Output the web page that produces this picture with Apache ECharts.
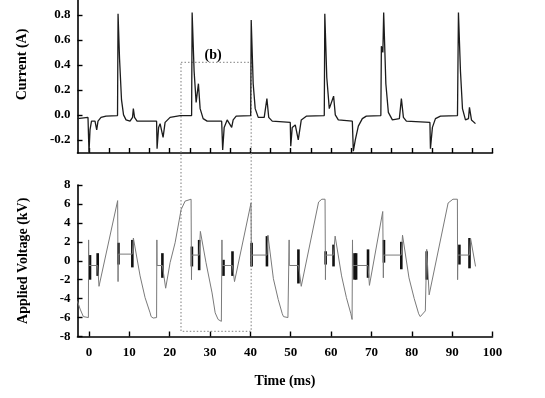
<!DOCTYPE html>
<html>
<head>
<meta charset="utf-8">
<script src="https://cdn.jsdelivr.net/npm/echarts@6/dist/echarts.min.js"></script>
<style>
  html, body { margin: 0; padding: 0; background: #fff; }
  #chart { width: 545px; height: 398px; }
</style>
</head>
<body>
<div id="chart"></div>
<script>
  // 放电电流 (A) —— 上图
  const currentTime = [
    -2.85, -0.25, 0.0, 0.25, 0.62, 0.99, 1.49, 1.91, 2.23, 2.98, 4.22,
    7.07, 7.2, 7.57, 8.06, 8.56, 9.18, 10.17, 10.79, 10.99, 11.29, 11.91,
    16.75, 16.87, 17.25, 17.62, 18.36, 18.86, 20.1, 22.6,
    25.43, 25.56, 26.05, 26.55, 27.12, 27.54, 28.29, 29.28,
    32.88, 33.13, 33.5, 34.24, 35.36, 35.73, 36.48,
    40.07, 40.2, 40.69, 41.19, 41.94, 43.42, 44.09, 44.54, 45.41,
    49.88, 50.0, 50.37, 51.12, 51.86, 52.61, 53.85,
    58.31, 58.44, 58.93, 59.55, 60.62, 61.04, 61.79,
    65.26, 65.51, 66.0, 66.75, 67.74, 68.73,
    72.33, 72.46, 72.83, 73.03, 73.57, 74.19, 75.19, 76.92, 77.42, 77.92, 78.66,
    84.49, 84.62, 85.11, 85.86, 87.1,
    91.32, 91.56, 92.06, 92.56, 93.3, 94.04, 94.29, 94.79, 95.78
  ];
  const currentValue = [
    -0.03, -0.02, -0.30, -0.12, -0.05, -0.04, -0.05, -0.12, -0.05, -0.02, -0.01,
    -0.005, 0.81, 0.45, 0.12, 0.0, -0.04, -0.05, -0.02, 0.05, -0.02, -0.05,
    -0.05, -0.27, -0.1, -0.07, -0.18, -0.06, -0.02, -0.005,
    -0.005, 0.82, 0.35, 0.1, 0.25, 0.05, -0.03, -0.05,
    -0.05, -0.28, -0.1, -0.04, -0.1, -0.04, -0.01,
    -0.005, 0.76, 0.25, 0.05, -0.02, -0.02, 0.13, -0.02, -0.05,
    -0.06, -0.25, -0.1, -0.08, -0.2, -0.04, -0.01,
    -0.005, 0.81, 0.3, 0.05, 0.15, 0.0, -0.04,
    -0.05, -0.29, -0.2, -0.09, -0.03, -0.01,
    -0.005, 0.55, 0.5, 0.82, 0.25, 0.02, -0.04, -0.03, 0.13, -0.02, -0.05,
    -0.06, -0.27, -0.1, -0.03, -0.01,
    -0.005, 0.82, 0.35, 0.05, -0.04, -0.03, 0.06, -0.04, -0.07
  ];

  // 外加电压 (kV) —— 下图
  const voltageTime = [
    -2.85, -2.2, -1.4, -0.15, -0.1, -0.05, 2.15, 2.48, 7.1, 7.2, 7.25, 10.74,
    11.0, 12.66, 13.9, 15.14, 15.4, 15.9, 16.75, 16.82, 16.87, 18.19,
    19.0, 20.1, 21.34, 22.83, 23.82, 24.3, 25.3, 25.4, 25.45, 27.3,
    27.6, 29.0, 30.5, 31.27, 32.0, 32.8, 32.95, 33.0, 35.56,
    36.06, 40.15, 40.25, 40.3, 44.1,
    44.35, 45.7, 46.9, 47.9, 48.2, 49.3, 49.6, 49.65, 51.94,
    52.6, 56.9, 57.7, 58.5, 58.6, 58.65, 60.6,
    61.0, 62.6, 63.8, 64.9, 65.2, 65.3, 65.35, 69.15,
    69.5, 72.8, 72.95, 73.0, 77.4,
    77.7, 79.3, 80.6, 81.7, 82.1, 82.5, 83.35, 83.7,
    84.3, 89.0, 90.2, 91.3, 91.35, 91.4, 94.3, 94.55, 95.8
  ];
  const voltageValue = [
    -4.3, -5.1, -5.9, -6.0, 2.2, -0.5, -0.5, -2.7, 6.35, -2.2, 0.7, 0.7,
    2.4, -1.6, -3.9, -5.5, -5.9, -6.05, -6.0, 2.2, -0.5, -0.5,
    -2.9, -0.2, 1.9, 5.4, 6.3, 6.5, 6.5, -2.0, 0.6, 0.6,
    3.1, -0.2, -3.4, -5.5, -6.2, -6.4, 2.2, -0.5, -0.5,
    -2.2, 6.1, -0.6, 0.6, 0.6,
    2.7, -1.9, -4.1, -5.6, -5.9, -6.0, 2.2, -0.5, -0.5,
    -2.7, 6.2, 6.5, 6.5, -2.0, 0.6, 0.6,
    2.6, -1.6, -3.9, -5.6, -6.2, 2.2, -0.5, -0.5,
    -2.6, 5.2, -1.8, 0.6, 0.6,
    2.7, -1.8, -4.0, -5.6, -5.9, -6.0, -5.3, 1.2,
    -3.6, 6.1, 6.5, 6.5, -2.0, 0.6, 0.6, 2.4, -0.6
  ];

  // 高频振荡段 (黑色竖条)
  const burstTime = [0.25, 2.15, 7.3, 10.74, 18.19, 25.5, 27.3, 33.33, 35.56, 40.3, 44.1,
    51.9, 58.65, 60.6, 65.8, 66.2, 69.15, 73.1, 77.4, 83.7, 91.8, 94.3];
  const burstLow = [-2.0, -1.6, -0.4, -0.7, -1.8, -0.6, -1.0, -1.6, -1.6, -0.6, -0.6,
    -2.4, -0.4, -0.6, -2.0, -2.0, -1.8, -0.2, -0.9, -2.0, -0.4, -0.8];
  const burstHigh = [0.6, 0.8, 1.9, 2.2, 0.8, 1.5, 2.2, 0.1, 1.0, 1.9, 2.6,
    1.2, 1.0, 1.7, 0.8, 0.8, 1.2, 2.2, 2.0, 1.0, 1.7, 2.4];

  const currentTicks = [-0.2, 0.0, 0.2, 0.4, 0.6, 0.8];
  const timeTicksTop = [0, 5, 10, 15, 20, 25, 30, 35, 40, 45, 50, 55, 60, 65, 70, 75, 80, 85, 90, 95, 100];
  const timeTicksBottom = [0, 10, 20, 30, 40, 50, 60, 70, 80, 90, 100];

  // 虚线框 (b)
  const boxStart = 22.8;
  const boxEnd = 40.2;
  const boxTopCurrent = 0.42;
  const boxBottomVoltage = -7.45;

  const font = 'Liberation Serif, Times New Roman, serif';
  const axisLine = { onZero: false, lineStyle: { color: '#000', width: 1.6 } };
  const tickStyle = { color: '#000', width: 1.4 };

  const chart = echarts.init(document.getElementById('chart'));

  chart.setOption({
    backgroundColor: '#fff',
    animation: false,
    grid: [
      { left: 77.5, right: 52.5, top: 0, height: 153 },
      { left: 77.5, right: 52.5, top: 185, height: 151.5 }
    ],
    xAxis: [{
      gridIndex: 0, type: 'value', min: -2.85, max: 100,
      axisLine: axisLine,
      axisTick: { inside: true, length: 5, lineStyle: tickStyle, customValues: timeTicksTop },
      axisLabel: { show: false },
      splitLine: { show: false }
    }, {
      gridIndex: 1, type: 'value', min: -2.85, max: 100,
      name: 'Time (ms)', nameLocation: 'middle', nameGap: 38,
      nameTextStyle: { fontFamily: font, fontWeight: 'bold', fontSize: 14, color: '#000' },
      axisLine: axisLine,
      axisTick: { inside: true, length: 5, lineStyle: tickStyle, customValues: timeTicksBottom },
      axisLabel: { customValues: timeTicksBottom, margin: 10, fontFamily: font, fontWeight: 'bold', fontSize: 13, color: '#000' },
      splitLine: { show: false }
    }],
    yAxis: [{
      gridIndex: 0, type: 'value', min: -0.305, max: 0.92,
      name: 'Current (A)', nameLocation: 'middle', nameGap: 48,
      nameTextStyle: { fontFamily: font, fontWeight: 'bold', fontSize: 14, color: '#000', padding: [0, 0, 0, 24] },
      axisLine: axisLine,
      axisTick: { inside: true, length: 5, lineStyle: tickStyle, customValues: currentTicks },
      axisLabel: {
        customValues: currentTicks, margin: 7, fontFamily: font, fontWeight: 'bold', fontSize: 13, color: '#000',
        formatter: v => v.toFixed(1)
      },
      splitLine: { show: false }
    }, {
      gridIndex: 1, type: 'value', min: -8, max: 8, interval: 2,
      name: 'Applied Voltage (kV)', nameLocation: 'middle', nameGap: 47,
      nameTextStyle: { fontFamily: font, fontWeight: 'bold', fontSize: 14, color: '#000' },
      axisLine: axisLine,
      axisTick: { inside: true, length: 5, lineStyle: tickStyle },
      axisLabel: { margin: 7, fontFamily: font, fontWeight: 'bold', fontSize: 13, color: '#000' },
      splitLine: { show: false }
    }],
    series: [{
      name: 'current', type: 'line', xAxisIndex: 0, yAxisIndex: 0,
      symbol: 'none', silent: true,
      lineStyle: { color: '#1c1c1c', width: 1.3 },
      data: currentTime.map((t, i) => [t, currentValue[i]])
    }, {
      name: 'voltage', type: 'line', xAxisIndex: 1, yAxisIndex: 1,
      symbol: 'none', silent: true,
      lineStyle: { color: '#7a7a7a', width: 1 },
      data: voltageTime.map((t, i) => [t, voltageValue[i]])
    }, {
      name: 'burst', type: 'custom', xAxisIndex: 1, yAxisIndex: 1, silent: true,
      encode: { x: 0, y: [1, 2] },
      data: burstTime.map((t, i) => [t, burstLow[i], burstHigh[i]]),
      renderItem: function (params, api) {
        const hi = api.coord([api.value(0), api.value(2)]);
        const lo = api.coord([api.value(0), api.value(1)]);
        return {
          type: 'rect',
          shape: { x: hi[0] - 1.3, y: hi[1], width: 2.6, height: lo[1] - hi[1] },
          style: { fill: '#111' }
        };
      }
    }]
  });

  // 虚线框跨两个坐标系，按数据换算像素
  const p1 = chart.convertToPixel({ gridIndex: 0 }, [boxStart, boxTopCurrent]);
  const p2 = chart.convertToPixel({ gridIndex: 1 }, [boxEnd, boxBottomVoltage]);
  chart.setOption({
    graphic: [{
      type: 'rect', silent: true, z: 1,
      shape: { x: p1[0], y: p1[1], width: p2[0] - p1[0], height: p2[1] - p1[1] },
      style: { fill: 'none', stroke: '#9a9a9a', lineWidth: 1.3, lineDash: [1.5, 2] }
    }, {
      type: 'text', silent: true,
      x: (p1[0] + p2[0]) / 2 - 3, y: p1[1] - 7,
      style: {
        text: '(b)', font: 'bold 14px ' + font, fill: '#000',
        align: 'center', verticalAlign: 'middle'
      }
    }]
  });
</script>
</body>
</html>
